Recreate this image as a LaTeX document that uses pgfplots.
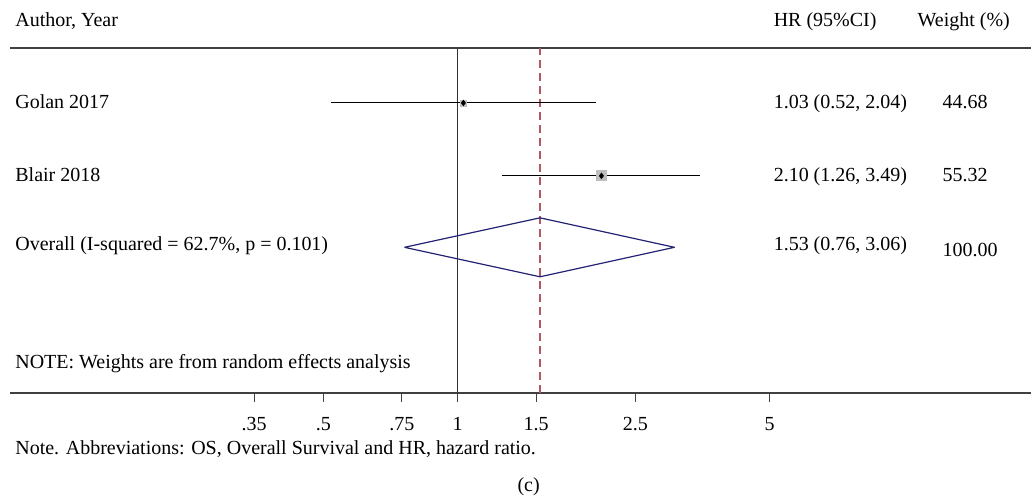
\documentclass[border=0pt]{standalone}
\usepackage{fontspec}
\setmainfont{Liberation Serif}
\usepackage{pgfplots}
\pgfplotsset{compat=1.18}
\definecolor{navy}{RGB}{35,35,115}
\definecolor{refred}{RGB}{178,88,98}
\definecolor{boxgrey}{RGB}{190,190,190}
\newcommand\fs{\fontsize{10}{12}\selectfont}
\newcommand\T[3]{\node[anchor=base west, font=\fs, inner sep=0pt] at (rel axis cs:{(#1-10)/1022},{(393-#2)/345}) {#3};}
\newcommand\Tk[1]{\draw[black!75, line width=0.6pt] (axis cs:#1,0) -- ([yshift=-4.5pt]axis cs:#1,0);}
\begin{document}
\begin{tikzpicture}
\begin{axis}[
  scale only axis, width=511pt, height=172.5pt,
  xmode=log, xmin=0.09931, xmax=19.28, ymin=0, ymax=345,
  axis x line*=bottom, axis y line=none,
  axis line style={-, black!75, line width=0.8pt},
  xtick={0.35,0.5,0.75,1,1.5,2.5,5},
  xticklabels={.35,.5,.75,1,1.5,2.5,5},
  minor xtick={},
  xtick align=outside,
  major tick length=4.5pt,
  x tick style={black!75, line width=0.6pt},
  x tick label style={font=\fs, anchor=base, inner sep=0pt, yshift=-14.5pt},
  clip=false,
]
% bounding box of the whole figure
\path (rel axis cs:{-10/1022},{393/345}) -- (rel axis cs:{1},{(393-498)/345});
% top rule
\draw[black!75, line width=0.8pt] (rel axis cs:0,1) -- (rel axis cs:1,1);
% tick marks
\Tk{0.35}\Tk{0.5}\Tk{0.75}\Tk{1}\Tk{1.5}\Tk{2.5}\Tk{5}
% null line and overall line
\addplot[black!80, line width=0.6pt] coordinates {(1,0) (1,345)};
\addplot[refred, line width=0.6pt, dash pattern=on 4pt off 2.5pt] coordinates {(1.53,0) (1.53,345)};
% study CIs
\addplot[black, line width=0.55pt] coordinates {(0.52,290) (2.04,290)};
\addplot[black, line width=0.55pt] coordinates {(1.26,217) (3.49,217)};
% weight boxes
\addplot[only marks, mark=square*, mark size=1.5pt, color=boxgrey, mark options={fill=boxgrey, draw=boxgrey}] coordinates {(1.03,290)};
\addplot[only marks, mark=square*, mark size=2.5pt, color=boxgrey, mark options={fill=boxgrey, draw=boxgrey}] coordinates {(2.10,217)};
\addplot[only marks, mark=diamond*, mark size=1.3pt, black] coordinates {(1.03,290) (2.10,217)};
% overall diamond
\addplot[navy, line width=0.6pt, line join=round] coordinates {(0.76,145.5) (1.53,175) (3.06,145.5) (1.53,116) (0.76,145.5)};
% texts
\T{15}{27}{Author, Year}
\T{774}{27}{HR (95\%CI)}
\T{918}{27}{Weight (\%)}
\T{15}{109}{Golan 2017}
\T{15}{182}{Blair 2018}
\T{15}{251}{Overall (I-squared = 62.7\%, p = 0.101)}
\T{774}{109}{1.03 (0.52, 2.04)}
\T{943}{109}{44.68}
\T{774}{182}{2.10 (1.26, 3.49)}
\T{943}{182}{55.32}
\T{774}{251}{1.53 (0.76, 3.06)}
\T{943}{257}{100.00}
\T{15}{369}{NOTE: Weights are from random effects analysis}
\T{15}{455}{Note. Abbreviations: OS, Overall Survival and HR, hazard ratio.}
\node[anchor=base, font=\fs, inner sep=0pt] at (rel axis cs:{(529-10)/1022},{(393-492)/345}) {(c)};
\end{axis}
\end{tikzpicture}
\end{document}
